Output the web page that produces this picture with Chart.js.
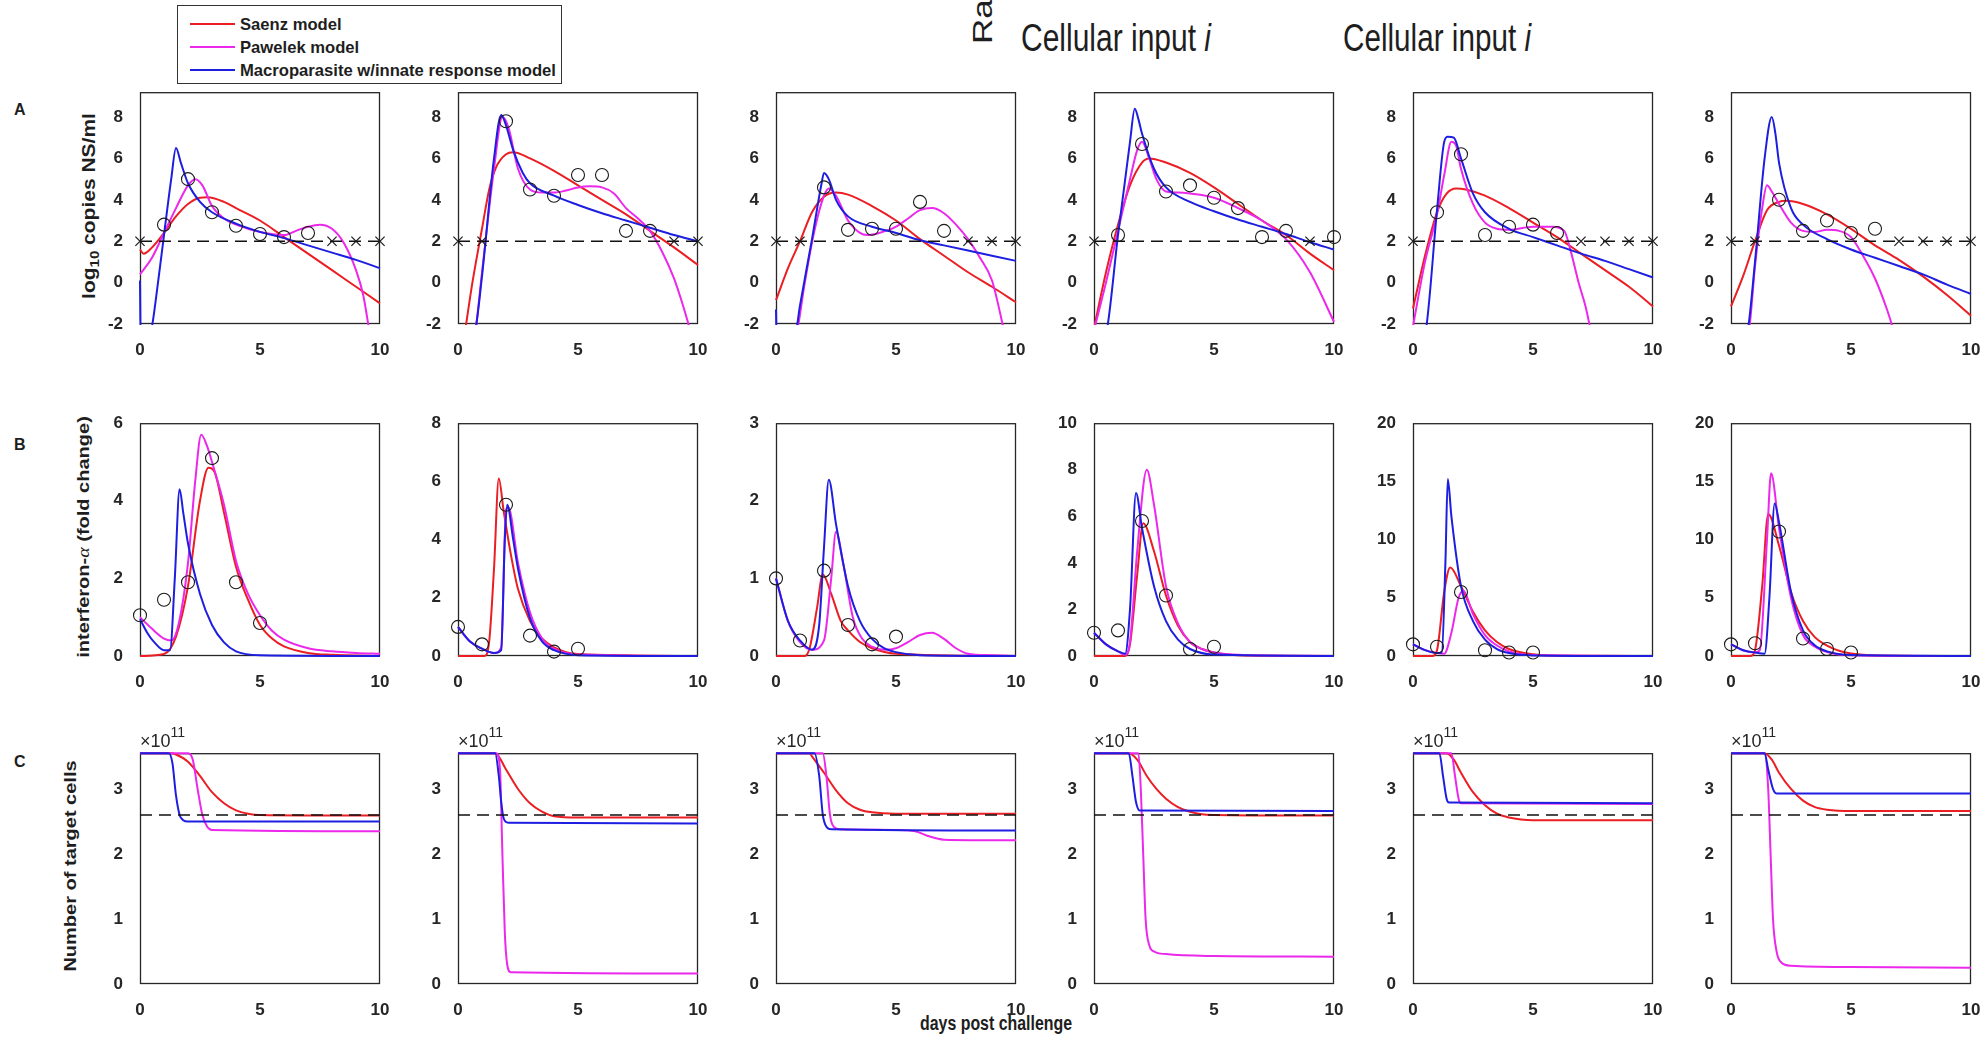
<!DOCTYPE html>
<html>
<head>
<meta charset="utf-8">
<title>Model fits</title>
<script src="https://cdn.jsdelivr.net/npm/chart.js@4.4.1/dist/chart.umd.min.js"></script>
<style>
  html, body { margin: 0; padding: 0; background: #fff; }
  body { position: relative; width: 1982px; height: 1060px; overflow: hidden; font-family: 'Liberation Sans', Arial, sans-serif; color: #1e1e1e; }
  canvas { position: absolute; }
  .txt { position: absolute; white-space: nowrap; line-height: 1; transform-origin: 0 50%; }
  .b { font-weight: bold; }
  .legend-box { position: absolute; left: 177px; top: 5px; width: 383px; height: 77px; border: 1px solid #333; background: #fff; }
  .legend-line { position: absolute; left: 190px; width: 45px; height: 2px; }
  .vtitle { position: absolute; white-space: nowrap; line-height: 1; font-weight: bold; font-size: 20px; transform: translate(-50%, -50%) rotate(-90deg) scaleY(0.85); }
</style>
</head>
<body>

<!-- legend -->
<div class="legend-box"></div>
<div class="legend-line" style="top:23px;background:rgb(235,30,35)"></div>
<div class="legend-line" style="top:46px;background:rgb(235,40,235)"></div>
<div class="legend-line" style="top:69px;background:rgb(30,30,225)"></div>
<div class="txt b leg" style="left:240px;top:16px;font-size:17px">Saenz model</div>
<div class="txt b leg" style="left:240px;top:39px;font-size:17px">Pawelek model</div>
<div class="txt b leg" id="legLong" style="left:240px;top:62px;font-size:17px">Macroparasite w/innate response model</div>

<!-- titles at the top -->
<div class="txt" style="left:968px;top:44px;font-size:35px;transform-origin:0 0;transform:rotate(-90deg) scaleY(0.8)">Ra</div>
<div class="txt fit" data-w="190" style="left:1021px;top:19px;font-size:38px">Cellular input <i>i</i></div>
<div class="txt fit" data-w="188" style="left:1343px;top:19px;font-size:38px">Cellular input <i>i</i></div>

<!-- row letters -->
<div class="txt b" style="left:14px;top:102px;font-size:16px">A</div>
<div class="txt b" style="left:14px;top:437px;font-size:16px">B</div>
<div class="txt b" style="left:14px;top:754px;font-size:16px">C</div>

<!-- axis titles -->
<div class="vtitle" style="left:90px;top:206px;font-size:21px">log<sub style="font-size:15px">10</sub> copies NS/ml</div>
<div class="vtitle" style="left:83px;top:537px">interferon-<i style="font-family:'Liberation Serif',serif;font-weight:normal">α</i> (fold change)</div>
<div class="vtitle" style="left:70px;top:866px">Number of target cells</div>
<div class="txt b fit" data-w="152" style="left:920px;top:1013px;font-size:20px">days post challenge</div>

<script>
// ---- axes ----
const xTicks = [0, 5, 10];
const yTicksA = [-2, 0, 2, 4, 6, 8];
const yTicksB = [[0, 2, 4, 6], [0, 2, 4, 6, 8], [0, 1, 2, 3], [0, 2, 4, 6, 8, 10], [0, 5, 10, 15, 20], [0, 5, 10, 15, 20]];
const yTicksC = [0, 1, 2, 3];
const yMaxA = 9.2;
const yMaxC = 3.55;
const limitA = 2;     // detection limit, log10 copies
const limitC = 2.6;   // x10^11 target cells

// ---- row A : viral load (log10 copies NS/ml) ----
const A1_saenz = [[0,1.6],[0.15,1.4],[0.5,1.7],[1,2.4],[1.5,3.2],[2,3.8],[2.5,4.1],[2.8,4.12],[3.5,3.9],[4,3.6],[5,3.0],[6,2.2],[7,1.4],[8,0.6],[9,-0.2],[10,-1.0]];
const A1_pawelek = [[0,0.4],[0.5,1.2],[1,2.4],[1.5,3.6],[2,4.7],[2.3,5.0],[2.6,4.7],[3,3.7],[3.5,3.1],[4,2.8],[5,2.45],[6,2.3],[6.5,2.5],[7,2.7],[7.5,2.8],[8,2.6],[8.5,1.9],[9,0.6],[9.3,-0.6],[9.55,-2.3]];
const A1_macro = [[0,0.1],[0.03,-3],[0.45,-2.4],[0.75,0],[1,2.3],[1.3,5.0],[1.5,6.5],[1.7,5.8],[2,4.8],[2.5,3.9],[3,3.4],[4,2.85],[5,2.45],[6,2.15],[7,1.8],[8,1.45],[9,1.1],[10,0.7]];
const A1_obs = [[1,2.8],[2,5.0],[3,3.4],[4,2.75],[5,2.35],[6,2.2],[7,2.4]];
const A1_lod = [0, 8, 9, 10];

const A2_saenz = [[0,-4.5],[0.3,-2.3],[0.6,0],[1,2.6],[1.3,4.5],[1.6,5.6],[2,6.2],[2.3,6.3],[3,6.0],[4,5.4],[5,4.7],[6,4.0],[7,3.3],[8,2.5],[9,1.7],[10,0.85]];
const A2_pawelek = [[0,-4],[0.7,-2.5],[1,0.5],[1.5,5.5],[1.85,8.0],[2.1,7.5],[2.5,5.5],[3,4.5],[3.5,4.35],[4,4.35],[4.5,4.45],[5,4.6],[5.5,4.65],[6,4.6],[6.5,4.3],[7,3.6],[7.5,3.1],[8,2.5],[8.5,1.5],[9,0.2],[9.4,-1.2],[9.7,-2.4]];
const A2_macro = [[0,-4],[0.7,-2.5],[1,0.3],[1.5,6],[1.8,8.1],[2,7.6],[2.3,6.4],[2.7,5.3],[3,4.8],[4,4.2],[5,3.75],[6,3.35],[7,3.0],[8,2.65],[9,2.3],[10,2.0]];
const A2_obs = [[2,7.8],[3,4.5],[4,4.2],[5,5.2],[6,5.2],[7,2.5],[8,2.5]];
const A2_lod = [0, 1, 9, 10];

const A3_saenz = [[0,-0.85],[0.5,0.7],[1,2.0],[1.5,3.4],[2,4.15],[2.5,4.35],[3,4.25],[4,3.7],[5,3.0],[6,2.1],[7,1.3],[8,0.5],[9,-0.2],[10,-0.95]];
const A3_pawelek = [[0,-4],[0.85,-2.5],[1.2,0],[1.6,2.5],[2,4.2],[2.2,4.55],[2.5,4.2],[3,3.0],[3.5,2.4],[3.8,2.3],[4.3,2.4],[5,2.7],[5.5,3.1],[6,3.5],[6.5,3.6],[7,3.35],[7.5,2.8],[8,2.1],[8.5,1.2],[9,0.1],[9.5,-2.3]];
const A3_macro = [[0,-1.3],[0.03,-3],[0.8,-2.5],[1,-1.1],[1.5,2.1],[1.9,4.8],[2,5.3],[2.2,5.0],[2.5,4.0],[3,3.2],[4,2.7],[5,2.4],[6,2.05],[7,1.8],[8,1.55],[9,1.3],[10,1.05]];
const A3_obs = [[2,4.6],[3,2.55],[4,2.6],[5,2.6],[6,3.9],[7,2.5]];
const A3_lod = [0, 1, 8, 9, 10];

const A4_saenz = [[0,-2.2],[0.5,0.5],[1,2.8],[1.5,4.7],[2,5.8],[2.3,6.0],[3,5.8],[4,5.3],[5,4.6],[6,3.8],[7,3.0],[8,2.3],[9,1.4],[10,0.6]];
const A4_pawelek = [[0,-2.3],[0.5,0],[1,2.5],[1.5,5.0],[1.8,6.4],[2,6.8],[2.3,6.0],[2.6,5.0],[3,4.4],[3.5,4.35],[4,4.3],[5,4.1],[6,3.6],[7,3.0],[8,2.1],[9,0.5],[10,-1.9]];
const A4_macro = [[0,-4],[0.55,-2.2],[1,2.3],[1.5,6.8],[1.7,8.4],[1.85,7.9],[2,7.2],[2.5,5.5],[3,4.6],[4,3.9],[5,3.45],[6,3.05],[7,2.7],[8,2.35],[9,1.95],[10,1.6]];
const A4_obs = [[1,2.3],[2,6.7],[3,4.4],[4,4.7],[5,4.1],[6,3.6],[7,2.2],[8,2.5],[10,2.2]];
const A4_lod = [0, 9];

const A5_saenz = [[0,-1.25],[0.5,1.3],[1,3.4],[1.4,4.3],[1.8,4.55],[2.2,4.5],[3,4.2],[4,3.6],[5,2.9],[6,2.2],[7,1.4],[8,0.6],[9,-0.2],[10,-1.15]];
const A5_pawelek = [[0,-2.1],[0.5,1.0],[1,3.3],[1.3,5.2],[1.6,6.8],[1.8,6.6],[2,5.5],[2.5,3.8],[3,2.9],[3.5,2.6],[4,2.55],[5,2.7],[5.8,2.7],[6.3,2.5],[6.6,1.4],[6.9,0],[7.2,-1.2],[7.4,-2.3]];
const A5_macro = [[0,-4],[0.55,-2.2],[1,3.5],[1.3,6.8],[1.45,7.05],[1.7,7.0],[2,6.0],[2.5,4.3],[3,3.4],[4,2.6],[5,2.2],[6,1.8],[7,1.4],[8,1.05],[9,0.65],[10,0.25]];
const A5_obs = [[1,3.4],[2,6.2],[3,2.3],[4,2.7],[5,2.8],[6,2.4]];
const A5_lod = [0, 7, 8, 9, 10];

const A6_saenz = [[0,-1.15],[0.5,0.3],[1,2.0],[1.5,3.5],[2,3.9],[2.3,3.95],[3,3.8],[4,3.3],[5,2.6],[6,1.8],[7,1.1],[8,0.3],[9,-0.6],[10,-1.6]];
const A6_pawelek = [[0,-4],[0.75,-2.3],[1,0.8],[1.3,3.6],[1.5,4.7],[1.7,4.4],[2,3.8],[2.5,2.9],[3,2.5],[3.5,2.45],[4,2.55],[4.5,2.5],[5,2.2],[5.5,1.3],[6,0.2],[6.5,-1.3],[6.8,-2.4]];
const A6_macro = [[0,-4],[0.7,-2.3],[1,1.0],[1.4,6.0],[1.7,8.0],[1.85,7.2],[2,5.8],[2.5,3.6],[3,2.8],[4,2.1],[5,1.6],[6,1.2],[7,0.8],[8,0.4],[9,-0.1],[10,-0.55]];
const A6_obs = [[2,4.0],[3,2.5],[4,3.0],[5,2.4],[6,2.6]];
const A6_lod = [0, 1, 7, 8, 9, 10];

// ---- row B : interferon-alpha (fold change) ----
const B1_saenz = [[0,0],[1,0.05],[1.5,0.5],[2,1.8],[2.5,4.0],[2.85,4.85],[3.1,4.75],[3.5,3.7],[4,2.3],[4.5,1.45],[5,0.8],[5.5,0.45],[6,0.25],[7,0.08],[8,0.03],[10,0]];
const B1_pawelek = [[0,1.0],[0.5,0.7],[1,0.45],[1.3,0.4],[1.6,0.8],[2,2.4],[2.3,4.5],[2.55,5.7],[2.8,5.4],[3,5.0],[3.5,3.9],[4,2.45],[4.5,1.6],[5,1.05],[5.5,0.65],[6,0.42],[7,0.2],[8,0.12],[9,0.08],[10,0.06]];
const B1_macro = [[0,0.95],[0.3,0.6],[0.6,0.35],[1,0.15],[1.25,0.15],[1.45,2.0],[1.65,4.3],[1.8,3.7],[2,2.9],[2.5,1.6],[3,0.8],[3.5,0.35],[4,0.12],[5,0.02],[10,0]];
const B1_obs = [[0,1.05],[1,1.45],[2,1.9],[3,5.1],[4,1.9],[5,0.85]];

const B2_saenz = [[0,0],[1.1,0],[1.3,0.5],[1.5,3.0],[1.7,6.1],[1.9,5.0],[2.2,3.5],[2.5,2.3],[3,1.2],[3.5,0.6],[4,0.3],[5,0.07],[10,0]];
const B2_pawelek = [[0,1.0],[0.5,0.5],[1,0.25],[1.5,0.1],[1.8,0.3],[2.0,5.0],[2.1,5.1],[2.5,3.2],[3,1.5],[3.5,0.6],[4,0.25],[5,0.05],[10,0]];
const B2_macro = [[0,1.0],[0.5,0.5],[1,0.25],[1.5,0.1],[1.8,0.2],[1.95,4.0],[2.05,5.2],[2.3,4.0],[2.5,3.0],[3,1.3],[3.5,0.5],[4,0.2],[5,0.03],[10,0]];
const B2_obs = [[0,1.0],[1,0.4],[2,5.2],[3,0.7],[4,0.15],[5,0.25]];

const B3_saenz = [[0,0],[1.2,0],[1.4,0.1],[1.7,0.6],[1.95,1.05],[2.3,0.8],[2.7,0.45],[3,0.33],[3.5,0.18],[4,0.1],[5,0.03],[10,0]];
const B3_pawelek = [[0,1.0],[0.5,0.45],[1,0.18],[1.5,0.08],[2.0,0.2],[2.3,1.0],[2.5,1.6],[2.8,1.2],[3.2,0.5],[3.6,0.22],[4,0.12],[4.5,0.08],[5,0.1],[5.5,0.18],[6,0.27],[6.5,0.3],[7,0.22],[7.5,0.1],[8,0.03],[9,0.01],[10,0]];
const B3_macro = [[0,1.0],[0.5,0.45],[1,0.2],[1.5,0.08],[1.8,0.4],[2.0,1.4],[2.2,2.27],[2.5,1.7],[3,0.9],[3.5,0.45],[4,0.22],[4.5,0.1],[5,0.05],[6,0.01],[10,0]];
const B3_obs = [[0,1.0],[1,0.2],[2,1.1],[3,0.4],[4,0.15],[5,0.25]];

const B4_saenz = [[0,0],[1.3,0],[1.5,0.5],[1.8,3.5],[2.05,5.7],[2.5,4.5],[3,2.6],[3.5,1.3],[4,0.6],[4.5,0.3],[5,0.15],[6,0.03],[10,0]];
const B4_pawelek = [[0,1.0],[0.5,0.5],[1,0.2],[1.3,0.05],[1.5,0.6],[1.8,4.5],[2.2,8.0],[2.5,6.5],[3,3.0],[3.5,1.4],[4,0.6],[4.5,0.3],[5,0.15],[6,0.05],[10,0]];
const B4_macro = [[0,1.0],[0.5,0.5],[1,0.2],[1.3,0.1],[1.5,2.0],[1.75,7.0],[2.0,5.5],[2.5,3.0],[3,1.5],[3.5,0.7],[4,0.3],[5,0.06],[10,0]];
const B4_obs = [[0,1.0],[1,1.1],[2,5.8],[3,2.6],[4,0.3],[5,0.4]];

const B5_saenz = [[0,0],[0.8,0],[1.0,0.5],[1.3,5.5],[1.55,7.6],[2,6.0],[2.5,3.8],[3,2.2],[3.5,1.2],[4,0.6],[5,0.15],[6,0.03],[10,0]];
const B5_pawelek = [[0,1.0],[0.5,0.5],[1,0.25],[1.3,0.2],[1.6,2.0],[1.9,5.0],[2.1,5.6],[2.5,3.6],[3,1.8],[3.5,0.9],[4,0.4],[5,0.08],[10,0]];
const B5_macro = [[0,1.0],[0.5,0.5],[1,0.25],[1.2,0.3],[1.35,8],[1.45,15.2],[1.6,12],[2,6.0],[2.5,3.0],[3,1.4],[3.5,0.6],[4,0.25],[5,0.05],[10,0]];
const B5_obs = [[0,1.0],[1,0.8],[2,5.5],[3,0.5],[4,0.3],[5,0.3]];

const B6_saenz = [[0,0],[0.8,0],[1.0,0.5],[1.3,6],[1.55,12.2],[2,9.5],[2.5,5.5],[3,3.0],[3.5,1.6],[4,0.9],[4.5,0.45],[5,0.22],[6,0.05],[10,0]];
const B6_pawelek = [[0,1.0],[0.5,0.5],[1,0.3],[1.2,0.5],[1.5,10],[1.67,15.7],[2.0,11],[2.5,5.0],[3,1.8],[3.5,0.8],[4,0.35],[5,0.06],[10,0]];
const B6_macro = [[0,1.0],[0.5,0.5],[1,0.3],[1.4,0.2],[1.6,5],[1.82,13.1],[2.0,11.5],[2.5,5.5],[3,2.2],[3.5,0.9],[4,0.4],[5,0.08],[10,0]];
const B6_obs = [[0,1.0],[1,1.1],[2,10.7],[3,1.5],[4,0.6],[5,0.3]];

// ---- row C : target cells (x10^11) ----
const C1_saenz = [[0,3.55],[1.3,3.55],[1.5,3.53],[2,3.42],[2.5,3.2],[3,2.95],[3.5,2.78],[4,2.67],[4.5,2.62],[5,2.6],[10,2.59]];
const C1_pawelek = [[0,3.55],[2.0,3.55],[2.2,3.45],[2.4,3.0],[2.6,2.6],[2.8,2.42],[3.0,2.37],[10,2.35]];
const C1_macro = [[0,3.55],[1.2,3.55],[1.35,3.4],[1.5,2.9],[1.65,2.6],[1.8,2.52],[2.0,2.5],[10,2.5]];

const C2_saenz = [[0,3.55],[1.55,3.55],[2,3.3],[2.5,3.0],[3,2.78],[3.5,2.65],[4,2.58],[5,2.56],[10,2.56]];
const C2_pawelek = [[0,3.55],[1.6,3.55],[1.75,3.3],[1.85,2.0],[1.95,0.8],[2.05,0.3],[2.2,0.18],[10,0.16]];
const C2_macro = [[0,3.55],[1.55,3.55],[1.7,3.2],[1.8,2.8],[1.9,2.55],[2.1,2.48],[10,2.47]];

const C3_saenz = [[0,3.55],[1.4,3.55],[1.5,3.5],[2,3.25],[2.5,2.98],[3,2.78],[3.5,2.68],[4,2.64],[5,2.62],[10,2.62]];
const C3_pawelek = [[0,3.55],[1.95,3.55],[2.1,3.2],[2.25,2.6],[2.4,2.42],[2.7,2.38],[5,2.37],[5.8,2.35],[6.3,2.28],[7,2.22],[10,2.21]];
const C3_macro = [[0,3.55],[1.6,3.55],[1.8,3.2],[1.95,2.6],[2.1,2.42],[2.3,2.38],[10,2.36]];

const C4_saenz = [[0,3.55],[1.45,3.55],[1.8,3.45],[2.2,3.2],[2.6,3.0],[3,2.85],[3.5,2.72],[4,2.65],[4.5,2.61],[5,2.6],[10,2.59]];
const C4_pawelek = [[0,3.55],[1.85,3.55],[1.95,3.0],[2.05,2.0],[2.15,1.0],[2.3,0.6],[2.5,0.5],[3,0.46],[5,0.43],[10,0.42]];
const C4_macro = [[0,3.55],[1.45,3.55],[1.6,3.2],[1.75,2.8],[1.9,2.67],[10,2.66]];

const C5_saenz = [[0,3.55],[1.4,3.55],[1.7,3.45],[2,3.25],[2.5,2.95],[3,2.75],[3.5,2.62],[4,2.56],[4.5,2.53],[5,2.52],[10,2.52]];
const C5_pawelek = [[0,3.55],[1.6,3.55],[1.75,3.2],[1.9,2.85],[2.0,2.78],[10,2.77]];
const C5_macro = [[0,3.55],[1.1,3.55],[1.25,3.2],[1.4,2.85],[1.5,2.79],[10,2.78]];

const C6_saenz = [[0,3.55],[1.4,3.55],[1.7,3.45],[2,3.25],[2.5,3.0],[3,2.82],[3.5,2.72],[4,2.68],[5,2.66],[10,2.66]];
const C6_pawelek = [[0,3.55],[1.4,3.55],[1.55,3.0],[1.65,2.0],[1.75,1.0],[1.9,0.5],[2.1,0.33],[2.5,0.28],[5,0.26],[10,0.25]];
const C6_macro = [[0,3.55],[1.4,3.55],[1.55,3.3],[1.75,3.0],[1.9,2.93],[10,2.93]];

// ---- layout ----
const colLeft = [140, 458, 776, 1094, 1413, 1731];
const rowTop = { A: 87, B: 418, C: 748 };
const rowBottom = { A: 324, B: 656, C: 984 };
const PANEL_W = 240;
const PAD_L = 46, PAD_T = 14, PAD_R = 18, PAD_B = 36;

const RED = 'rgb(235,30,35)';
const MAGENTA = 'rgb(235,40,235)';
const BLUE = 'rgb(30,30,225)';
const INK = '#262626';
const tickFont = { family: "'Liberation Sans Narrow', 'Liberation Sans', Arial, sans-serif", size: 17, weight: 'bold' };

const toXY = (arr) => arr.map(([x, y]) => ({ x, y }));

// box round each axes (MATLAB "box on"), drawn under the curves
const framePlugin = {
  id: 'frame',
  beforeDatasetsDraw(chart) {
    const { ctx, chartArea: a } = chart;
    ctx.save();
    ctx.strokeStyle = INK;
    ctx.lineWidth = 1.3;
    ctx.strokeRect(a.left + 0.5, a.top + 0.5, a.right - a.left - 1, a.bottom - a.top - 1);
    ctx.restore();
  },
};

const curve = (data, color, clip) => ({
  data: toXY(data),
  borderColor: color,
  borderWidth: 2,
  pointRadius: 0,
  cubicInterpolationMode: 'monotone',
  fill: false,
  clip,
});

function renderPanel(row, col, cfg) {
  const left = colLeft[col];
  const top = rowTop[row];
  const height = rowBottom[row] - top;

  const canvas = document.createElement('canvas');
  canvas.width = PANEL_W + PAD_L + PAD_R;
  canvas.height = height + PAD_T + PAD_B;
  canvas.style.left = `${left - PAD_L}px`;
  canvas.style.top = `${top - PAD_T}px`;
  document.body.appendChild(canvas);

  // only row A curves leave the axes, the others may sit on the box lines
  const clip = row === 'A' ? 1 : false;

  // first dataset is drawn last (on top)
  const datasets = [];
  if (cfg.obs) {
    datasets.push({
      data: toXY(cfg.obs),
      showLine: false,
      pointStyle: 'circle',
      pointRadius: 6.5,
      pointBorderColor: '#1a1a1a',
      pointBackgroundColor: 'rgba(0,0,0,0)',
      pointBorderWidth: 1.1,
      clip: false,
    });
  }
  if (cfg.lod) {
    datasets.push({
      data: cfg.lod.map((x) => ({ x, y: cfg.limit })),
      showLine: false,
      pointStyle: 'crossRot',
      pointRadius: 6.5,
      pointBorderColor: '#1a1a1a',
      pointBorderWidth: 1.2,
      clip: false,
    });
  }
  if (cfg.limit !== undefined) {
    datasets.push({
      data: [{ x: 0, y: cfg.limit }, { x: 10, y: cfg.limit }],
      borderColor: '#111',
      borderWidth: 1.4,
      borderDash: [12, 7],
      pointRadius: 0,
    });
  }
  datasets.push(curve(cfg.macro, BLUE, clip));
  datasets.push(curve(cfg.pawelek, MAGENTA, clip));
  datasets.push(curve(cfg.saenz, RED, clip));

  new Chart(canvas, {
    type: 'line',
    data: { datasets },
    options: {
      responsive: false,
      animation: false,
      events: [],
      layout: { padding: { left: 0, top: PAD_T, right: PAD_R, bottom: 0 } },
      plugins: { legend: { display: false }, tooltip: { enabled: false } },
      scales: {
        x: {
          type: 'linear',
          min: 0,
          max: 10,
          grid: { display: false },
          border: { display: false },
          afterBuildTicks: (s) => { s.ticks = xTicks.map((v) => ({ value: v })); },
          afterFit: (s) => { s.height = PAD_B; },
          ticks: { font: tickFont, color: INK, padding: 8, maxRotation: 0, autoSkip: false },
        },
        y: {
          type: 'linear',
          min: cfg.yMin,
          max: cfg.yMax,
          grid: { display: false },
          border: { display: false },
          afterBuildTicks: (s) => { s.ticks = cfg.yTicks.map((v) => ({ value: v })); },
          afterFit: (s) => { s.width = PAD_L; },
          ticks: { font: tickFont, color: INK, padding: 9, autoSkip: false },
        },
      },
    },
    plugins: [framePlugin],
  });

  if (cfg.exponent) {
    const lab = document.createElement('div');
    lab.className = 'txt';
    lab.style.left = `${left}px`;
    lab.style.top = `${top - 20}px`;
    lab.style.fontSize = '18px';
    lab.style.color = INK;
    lab.innerHTML = '×10<sup style="font-size:14px;position:relative;top:-3px">11</sup>';
    document.body.appendChild(lab);
  }
}

const rowA = [
  [A1_saenz, A1_pawelek, A1_macro, A1_obs, A1_lod],
  [A2_saenz, A2_pawelek, A2_macro, A2_obs, A2_lod],
  [A3_saenz, A3_pawelek, A3_macro, A3_obs, A3_lod],
  [A4_saenz, A4_pawelek, A4_macro, A4_obs, A4_lod],
  [A5_saenz, A5_pawelek, A5_macro, A5_obs, A5_lod],
  [A6_saenz, A6_pawelek, A6_macro, A6_obs, A6_lod],
];
rowA.forEach(([saenz, pawelek, macro, obs, lod], i) => {
  renderPanel('A', i, { saenz, pawelek, macro, obs, lod, limit: limitA, yMin: -2, yMax: yMaxA, yTicks: yTicksA });
});

const rowB = [
  [B1_saenz, B1_pawelek, B1_macro, B1_obs],
  [B2_saenz, B2_pawelek, B2_macro, B2_obs],
  [B3_saenz, B3_pawelek, B3_macro, B3_obs],
  [B4_saenz, B4_pawelek, B4_macro, B4_obs],
  [B5_saenz, B5_pawelek, B5_macro, B5_obs],
  [B6_saenz, B6_pawelek, B6_macro, B6_obs],
];
rowB.forEach(([saenz, pawelek, macro, obs], i) => {
  const ticks = yTicksB[i];
  renderPanel('B', i, { saenz, pawelek, macro, obs, yMin: 0, yMax: ticks[ticks.length - 1], yTicks: ticks });
});

const rowC = [
  [C1_saenz, C1_pawelek, C1_macro],
  [C2_saenz, C2_pawelek, C2_macro],
  [C3_saenz, C3_pawelek, C3_macro],
  [C4_saenz, C4_pawelek, C4_macro],
  [C5_saenz, C5_pawelek, C5_macro],
  [C6_saenz, C6_pawelek, C6_macro],
];
rowC.forEach(([saenz, pawelek, macro], i) => {
  renderPanel('C', i, { saenz, pawelek, macro, limit: limitC, yMin: 0, yMax: yMaxC, yTicks: yTicksC, exponent: true });
});

// squeeze the condensed-looking texts to the width they take in the figure
document.querySelectorAll('.fit').forEach((el) => {
  const w = el.getBoundingClientRect().width;
  el.style.transform = `scaleX(${el.dataset.w / w})`;
});
const legLong = document.getElementById('legLong');
const k = 316 / legLong.getBoundingClientRect().width;
document.querySelectorAll('.leg').forEach((el) => { el.style.transform = `scaleX(${k})`; });
</script>
</body>
</html>
